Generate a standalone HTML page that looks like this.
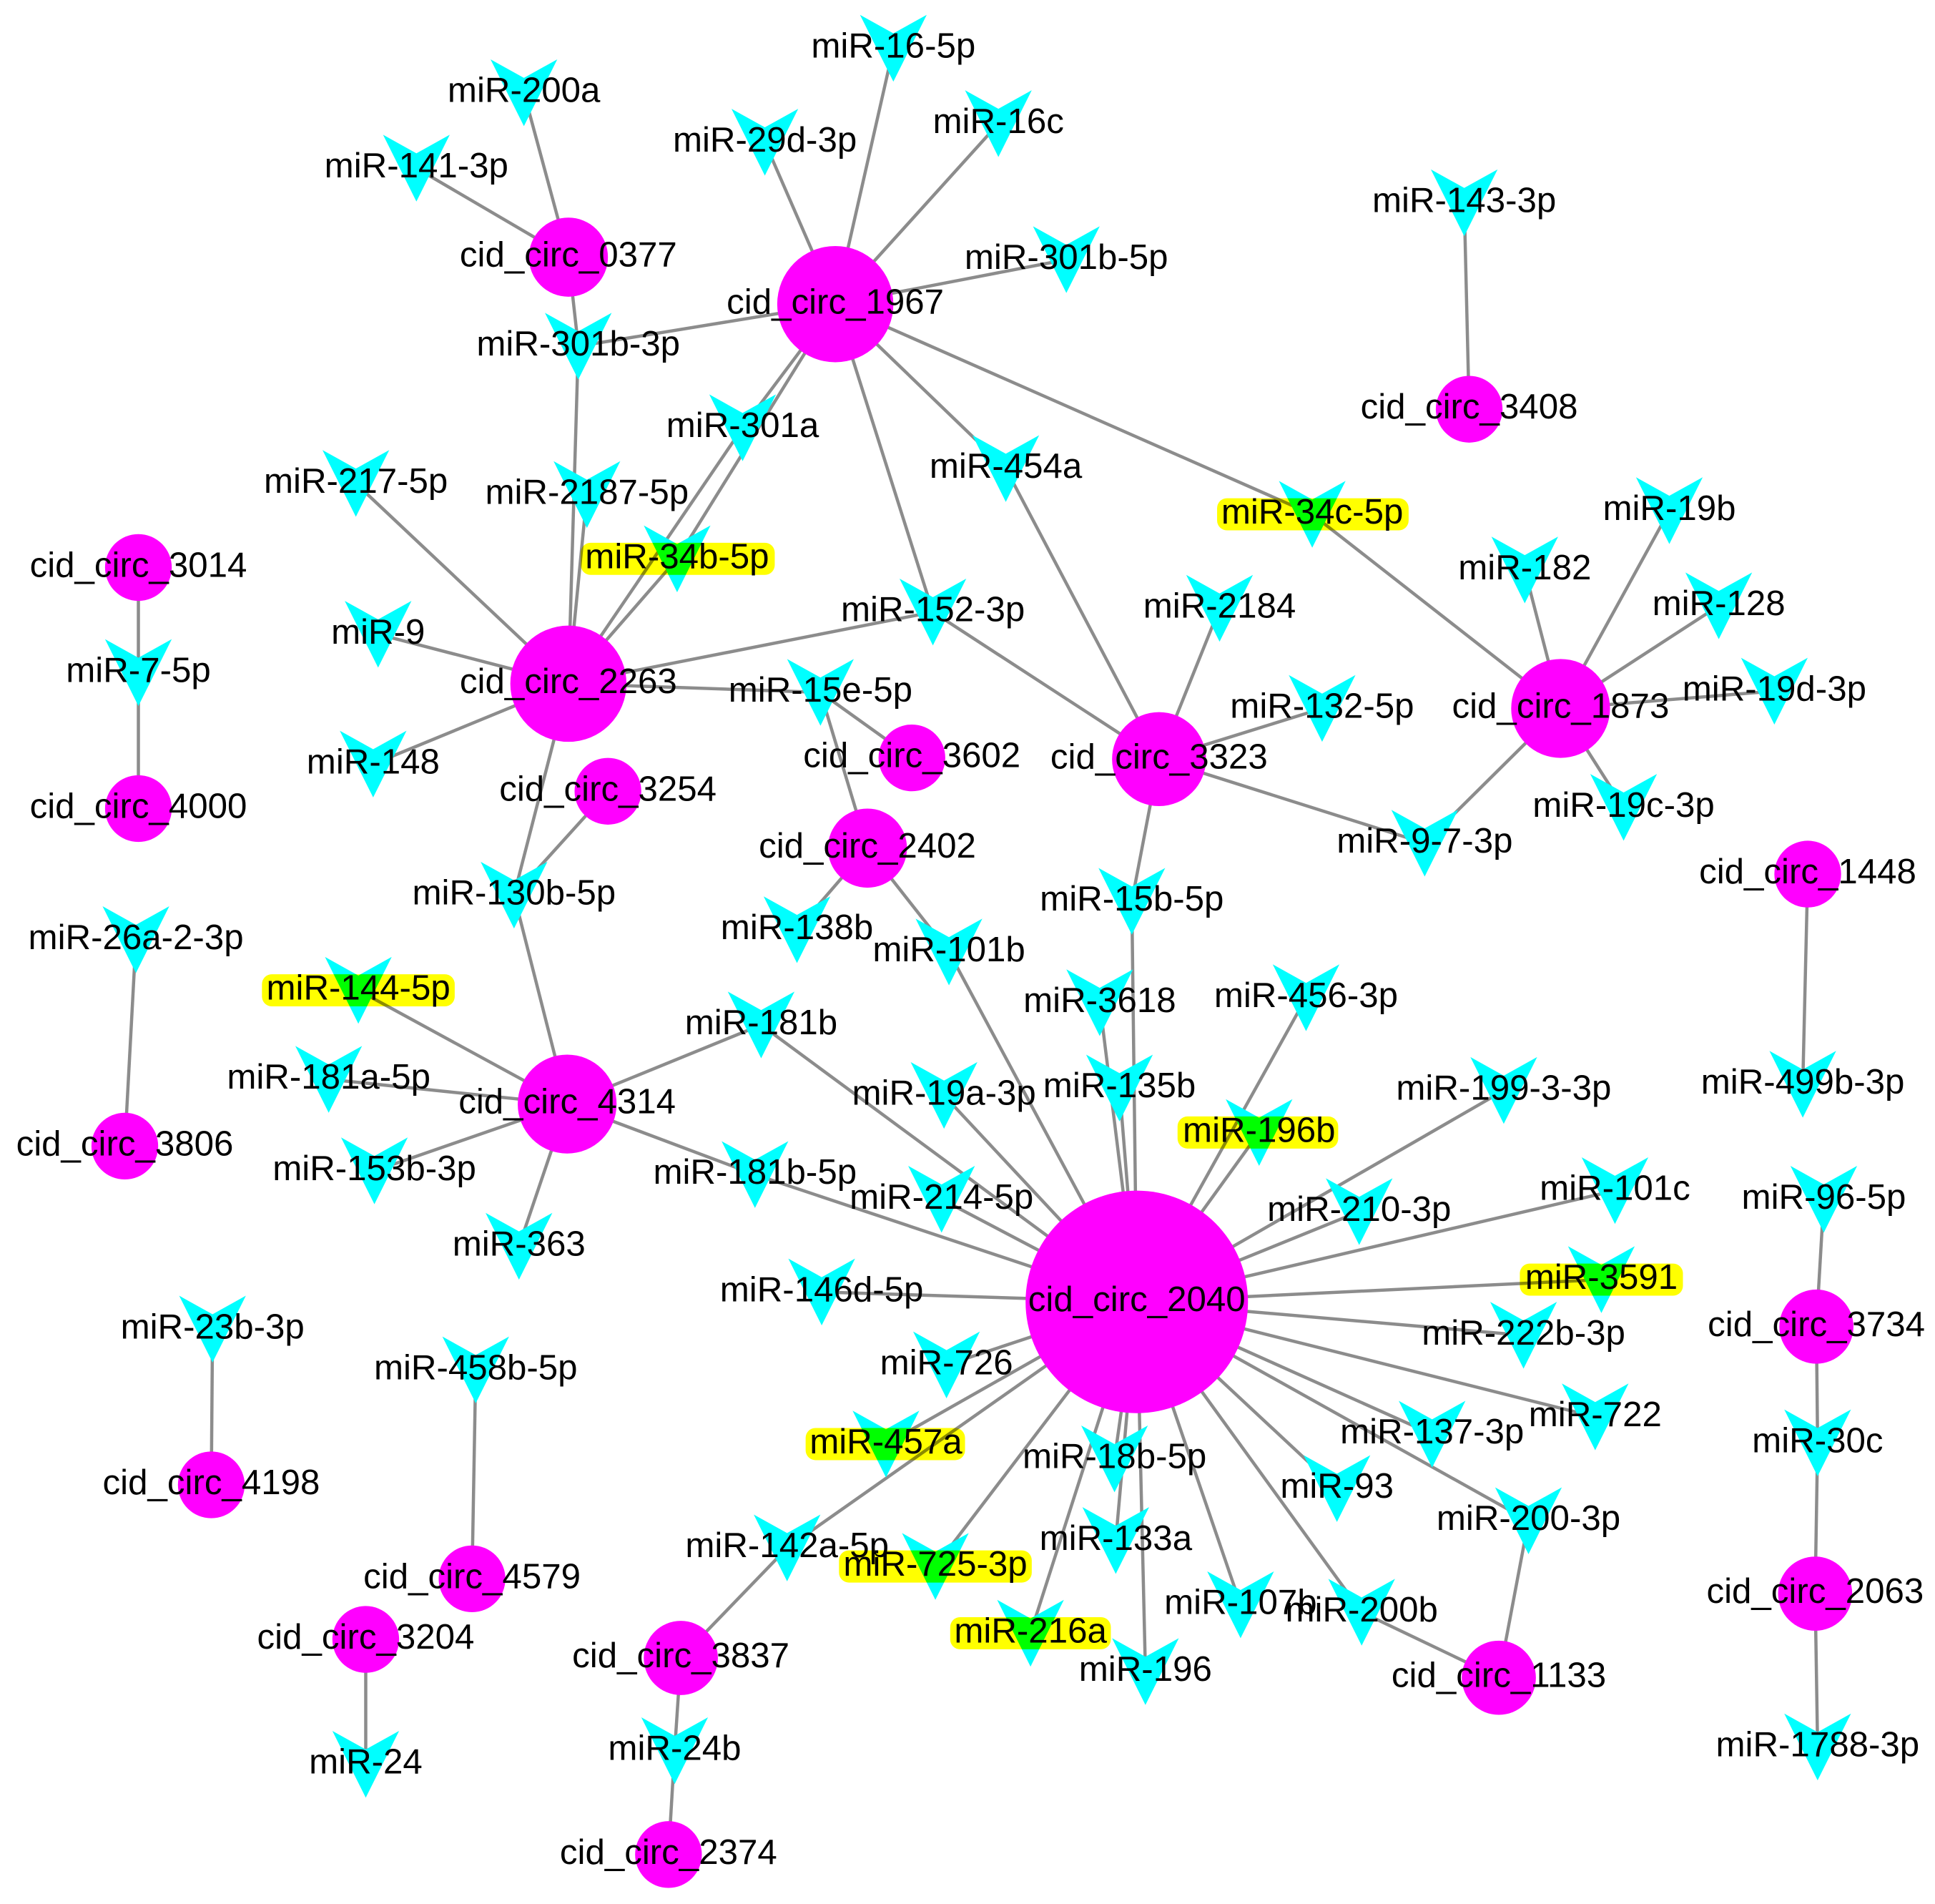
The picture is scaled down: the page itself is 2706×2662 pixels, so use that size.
<!DOCTYPE html>
<html><head><meta charset="utf-8"><style>
html,body{margin:0;padding:0;background:#fff;}
svg{display:block;}
text{font-family:"Liberation Sans",Arial,sans-serif;font-size:28.5px;fill:#000;text-anchor:middle;dominant-baseline:central;}
line{stroke:#8c8c8c;stroke-width:2.6;}
.c{fill:#ff00ff;}
.v{fill:#00ffff;}
.y{fill:#ffff00;mix-blend-mode:multiply;}
</style></head><body>
<svg width="2706" height="2662" viewBox="0 0 1566 1540" preserveAspectRatio="none" xmlns="http://www.w3.org/2000/svg">
<defs><path id="v" d="M-27,-27 L0,-12 L27,-27 L0,27Z"/></defs>
<g>
<line x1="460" y1="208" x2="424" y2="75"/>
<line x1="460" y1="208" x2="337" y2="136"/>
<line x1="460" y1="208" x2="468" y2="280"/>
<line x1="676" y1="246" x2="723" y2="39"/>
<line x1="676" y1="246" x2="619" y2="115"/>
<line x1="676" y1="246" x2="808" y2="100"/>
<line x1="676" y1="246" x2="863" y2="210"/>
<line x1="676" y1="246" x2="468" y2="280"/>
<line x1="676" y1="246" x2="601" y2="346"/>
<line x1="676" y1="246" x2="814" y2="379"/>
<line x1="676" y1="246" x2="1062" y2="416"/>
<line x1="676" y1="246" x2="755" y2="495"/>
<line x1="676" y1="246" x2="548" y2="452"/>
<line x1="601" y1="346" x2="460" y2="553"/>
<line x1="548" y1="452" x2="460" y2="553"/>
<line x1="1189" y1="331" x2="1185" y2="164"/>
<line x1="112" y1="459" x2="112" y2="544"/>
<line x1="112" y1="654" x2="112" y2="544"/>
<line x1="468" y1="280" x2="460" y2="553"/>
<line x1="475" y1="400" x2="460" y2="553"/>
<line x1="460" y1="553" x2="288" y2="391"/>
<line x1="460" y1="553" x2="306" y2="513"/>
<line x1="460" y1="553" x2="302" y2="618"/>
<line x1="460" y1="553" x2="755" y2="495"/>
<line x1="460" y1="553" x2="664" y2="560"/>
<line x1="460" y1="553" x2="416" y2="724"/>
<line x1="664" y1="560" x2="738" y2="613"/>
<line x1="664" y1="560" x2="702" y2="686"/>
<line x1="492" y1="640" x2="416" y2="724"/>
<line x1="416" y1="724" x2="459" y2="893"/>
<line x1="755" y1="495" x2="938" y2="614"/>
<line x1="702" y1="686" x2="645" y2="752"/>
<line x1="702" y1="686" x2="768" y2="770"/>
<line x1="768" y1="770" x2="920" y2="1053"/>
<line x1="938" y1="614" x2="987" y2="492"/>
<line x1="938" y1="614" x2="1070" y2="573"/>
<line x1="938" y1="614" x2="1153" y2="682"/>
<line x1="938" y1="614" x2="814" y2="379"/>
<line x1="938" y1="614" x2="916" y2="729"/>
<line x1="916" y1="729" x2="920" y2="1053"/>
<line x1="1263" y1="573" x2="1062" y2="416"/>
<line x1="1263" y1="573" x2="1234" y2="461"/>
<line x1="1263" y1="573" x2="1351" y2="413"/>
<line x1="1263" y1="573" x2="1391" y2="490"/>
<line x1="1263" y1="573" x2="1436" y2="559"/>
<line x1="1263" y1="573" x2="1314" y2="653"/>
<line x1="1263" y1="573" x2="1153" y2="682"/>
<line x1="1463" y1="707" x2="1459" y2="877"/>
<line x1="101" y1="927" x2="110" y2="760"/>
<line x1="459" y1="893" x2="290" y2="801"/>
<line x1="459" y1="893" x2="266" y2="873"/>
<line x1="459" y1="893" x2="303" y2="947"/>
<line x1="459" y1="893" x2="420" y2="1008"/>
<line x1="459" y1="893" x2="616" y2="829"/>
<line x1="459" y1="893" x2="611" y2="950"/>
<line x1="616" y1="829" x2="920" y2="1053"/>
<line x1="611" y1="950" x2="920" y2="1053"/>
<line x1="920" y1="1053" x2="890" y2="811"/>
<line x1="920" y1="1053" x2="906" y2="880"/>
<line x1="920" y1="1053" x2="1057" y2="807"/>
<line x1="920" y1="1053" x2="1019" y2="916"/>
<line x1="920" y1="1053" x2="1217" y2="882"/>
<line x1="920" y1="1053" x2="1100" y2="980"/>
<line x1="920" y1="1053" x2="1307" y2="963"/>
<line x1="920" y1="1053" x2="1296" y2="1035"/>
<line x1="920" y1="1053" x2="1233" y2="1080"/>
<line x1="920" y1="1053" x2="1291" y2="1146"/>
<line x1="920" y1="1053" x2="1159" y2="1160"/>
<line x1="920" y1="1053" x2="1237" y2="1230"/>
<line x1="920" y1="1053" x2="1082" y2="1204"/>
<line x1="920" y1="1053" x2="1102" y2="1304"/>
<line x1="920" y1="1053" x2="1004" y2="1298"/>
<line x1="920" y1="1053" x2="927" y2="1352"/>
<line x1="920" y1="1053" x2="903" y2="1246"/>
<line x1="920" y1="1053" x2="902" y2="1180"/>
<line x1="920" y1="1053" x2="834" y2="1321"/>
<line x1="920" y1="1053" x2="757" y2="1267"/>
<line x1="920" y1="1053" x2="637" y2="1252"/>
<line x1="920" y1="1053" x2="717" y2="1168"/>
<line x1="920" y1="1053" x2="766" y2="1104"/>
<line x1="920" y1="1053" x2="665" y2="1045"/>
<line x1="920" y1="1053" x2="762" y2="970"/>
<line x1="920" y1="1053" x2="764" y2="886"/>
<line x1="1213" y1="1357" x2="1237" y2="1230"/>
<line x1="1213" y1="1357" x2="1102" y2="1304"/>
<line x1="1470" y1="1073" x2="1476" y2="970"/>
<line x1="1470" y1="1073" x2="1471" y2="1167"/>
<line x1="1469" y1="1289" x2="1471" y2="1167"/>
<line x1="1469" y1="1289" x2="1471" y2="1413"/>
<line x1="171" y1="1201" x2="172" y2="1075"/>
<line x1="382" y1="1277" x2="385" y2="1108"/>
<line x1="296" y1="1326" x2="296" y2="1427"/>
<line x1="551" y1="1341" x2="637" y2="1252"/>
<line x1="551" y1="1341" x2="546" y2="1416"/>
<line x1="541" y1="1500" x2="546" y2="1416"/>
</g>
<g class="v">
<use href="#v" x="424" y="75"/><use href="#v" x="337" y="136"/><use href="#v" x="723" y="39"/>
<use href="#v" x="619" y="115"/><use href="#v" x="808" y="100"/><use href="#v" x="863" y="210"/>
<use href="#v" x="1185" y="164"/><use href="#v" x="468" y="280"/><use href="#v" x="601" y="346"/>
<use href="#v" x="814" y="379"/><use href="#v" x="288" y="391"/><use href="#v" x="475" y="400"/>
<use href="#v" x="548" y="452"/><use href="#v" x="1062" y="416"/><use href="#v" x="1351" y="413"/>
<use href="#v" x="1234" y="461"/><use href="#v" x="1391" y="490"/><use href="#v" x="1436" y="559"/>
<use href="#v" x="987" y="492"/><use href="#v" x="755" y="495"/><use href="#v" x="306" y="513"/>
<use href="#v" x="112" y="544"/><use href="#v" x="664" y="560"/><use href="#v" x="1070" y="573"/>
<use href="#v" x="302" y="618"/><use href="#v" x="1314" y="653"/><use href="#v" x="1153" y="682"/>
<use href="#v" x="416" y="724"/><use href="#v" x="916" y="729"/><use href="#v" x="645" y="752"/>
<use href="#v" x="768" y="770"/><use href="#v" x="110" y="760"/><use href="#v" x="290" y="801"/>
<use href="#v" x="890" y="811"/><use href="#v" x="1057" y="807"/><use href="#v" x="616" y="829"/>
<use href="#v" x="266" y="873"/><use href="#v" x="764" y="886"/><use href="#v" x="906" y="880"/>
<use href="#v" x="1217" y="882"/><use href="#v" x="1459" y="877"/><use href="#v" x="1019" y="916"/>
<use href="#v" x="303" y="947"/><use href="#v" x="611" y="950"/><use href="#v" x="762" y="970"/>
<use href="#v" x="1100" y="980"/><use href="#v" x="1307" y="963"/><use href="#v" x="1476" y="970"/>
<use href="#v" x="420" y="1008"/><use href="#v" x="1296" y="1035"/><use href="#v" x="665" y="1045"/>
<use href="#v" x="1233" y="1080"/><use href="#v" x="172" y="1075"/><use href="#v" x="385" y="1108"/>
<use href="#v" x="766" y="1104"/><use href="#v" x="1291" y="1146"/><use href="#v" x="1471" y="1167"/>
<use href="#v" x="1159" y="1160"/><use href="#v" x="717" y="1168"/><use href="#v" x="902" y="1180"/>
<use href="#v" x="1082" y="1204"/><use href="#v" x="1237" y="1230"/><use href="#v" x="903" y="1246"/>
<use href="#v" x="637" y="1252"/><use href="#v" x="757" y="1267"/><use href="#v" x="1004" y="1298"/>
<use href="#v" x="1102" y="1304"/><use href="#v" x="834" y="1321"/><use href="#v" x="927" y="1352"/>
<use href="#v" x="296" y="1427"/><use href="#v" x="546" y="1416"/><use href="#v" x="1471" y="1413"/>
</g>
<g class="c">
<circle cx="460" cy="208" r="32"/><circle cx="676" cy="246" r="47"/><circle cx="1189" cy="331" r="27"/>
<circle cx="112" cy="459" r="27"/><circle cx="460" cy="553" r="47"/><circle cx="112" cy="654" r="27"/>
<circle cx="738" cy="613" r="27"/><circle cx="492" cy="640" r="27"/><circle cx="702" cy="686" r="32"/>
<circle cx="938" cy="614" r="38"/><circle cx="1263" cy="573" r="40"/><circle cx="1463" cy="707" r="27"/>
<circle cx="101" cy="927" r="27"/><circle cx="459" cy="893" r="40"/><circle cx="920" cy="1053" r="90"/>
<circle cx="1470" cy="1073" r="30"/><circle cx="171" cy="1201" r="27"/><circle cx="382" cy="1277" r="27"/>
<circle cx="296" cy="1326" r="27"/><circle cx="551" cy="1341" r="30"/><circle cx="1469" cy="1289" r="30"/>
<circle cx="1213" cy="1357" r="30"/><circle cx="541" cy="1500" r="27"/>
</g>
<g class="y">
<rect x="470" y="439" width="157" height="26" rx="8"/>
<rect x="985" y="403" width="155" height="26" rx="8"/>
<rect x="212" y="788" width="156" height="26" rx="8"/>
<rect x="953" y="903" width="130" height="26" rx="8"/>
<rect x="1230" y="1022" width="132" height="26" rx="8"/>
<rect x="652" y="1155" width="129" height="26" rx="8"/>
<rect x="679" y="1254" width="156" height="26" rx="8"/>
<rect x="769" y="1308" width="130" height="26" rx="8"/>
</g>
<g transform="translate(0,-2)">
<text x="424" y="75">miR-200a</text><text x="337" y="136">miR-141-3p</text><text x="723" y="39">miR-16-5p</text>
<text x="619" y="115">miR-29d-3p</text><text x="808" y="100">miR-16c</text><text x="863" y="210">miR-301b-5p</text>
<text x="1185" y="164">miR-143-3p</text><text x="468" y="280">miR-301b-3p</text><text x="601" y="346">miR-301a</text>
<text x="814" y="379">miR-454a</text><text x="288" y="391">miR-217-5p</text><text x="475" y="400">miR-2187-5p</text>
<text x="548" y="452">miR-34b-5p</text><text x="1062" y="416">miR-34c-5p</text><text x="1351" y="413">miR-19b</text>
<text x="1234" y="461">miR-182</text><text x="1391" y="490">miR-128</text><text x="1436" y="559">miR-19d-3p</text>
<text x="987" y="492">miR-2184</text><text x="755" y="495">miR-152-3p</text><text x="306" y="513">miR-9</text>
<text x="112" y="544">miR-7-5p</text><text x="664" y="560">miR-15e-5p</text><text x="1070" y="573">miR-132-5p</text>
<text x="302" y="618">miR-148</text><text x="1314" y="653">miR-19c-3p</text><text x="1153" y="682">miR-9-7-3p</text>
<text x="416" y="724">miR-130b-5p</text><text x="916" y="729">miR-15b-5p</text><text x="645" y="752">miR-138b</text>
<text x="768" y="770">miR-101b</text><text x="110" y="760">miR-26a-2-3p</text><text x="290" y="801">miR-144-5p</text>
<text x="890" y="811">miR-3618</text><text x="1057" y="807">miR-456-3p</text><text x="616" y="829">miR-181b</text>
<text x="266" y="873">miR-181a-5p</text><text x="764" y="886">miR-19a-3p</text><text x="906" y="880">miR-135b</text>
<text x="1217" y="882">miR-199-3-3p</text><text x="1459" y="877">miR-499b-3p</text><text x="1019" y="916">miR-196b</text>
<text x="303" y="947">miR-153b-3p</text><text x="611" y="950">miR-181b-5p</text><text x="762" y="970">miR-214-5p</text>
<text x="1100" y="980">miR-210-3p</text><text x="1307" y="963">miR-101c</text><text x="1476" y="970">miR-96-5p</text>
<text x="420" y="1008">miR-363</text><text x="1296" y="1035">miR-3591</text><text x="665" y="1045">miR-146d-5p</text>
<text x="1233" y="1080">miR-222b-3p</text><text x="172" y="1075">miR-23b-3p</text><text x="385" y="1108">miR-458b-5p</text>
<text x="766" y="1104">miR-726</text><text x="1291" y="1146">miR-722</text><text x="1471" y="1167">miR-30c</text>
<text x="1159" y="1160">miR-137-3p</text><text x="717" y="1168">miR-457a</text><text x="902" y="1180">miR-18b-5p</text>
<text x="1082" y="1204">miR-93</text><text x="1237" y="1230">miR-200-3p</text><text x="903" y="1246">miR-133a</text>
<text x="637" y="1252">miR-142a-5p</text><text x="757" y="1267">miR-725-3p</text><text x="1004" y="1298">miR-107b</text>
<text x="1102" y="1304">miR-200b</text><text x="834" y="1321">miR-216a</text><text x="927" y="1352">miR-196</text>
<text x="296" y="1427">miR-24</text><text x="546" y="1416">miR-24b</text><text x="1471" y="1413">miR-1788-3p</text>
<text x="460" y="208">cid_circ_0377</text><text x="676" y="246">cid_circ_1967</text><text x="1189" y="331">cid_circ_3408</text>
<text x="112" y="459">cid_circ_3014</text><text x="460" y="553">cid_circ_2263</text><text x="112" y="654">cid_circ_4000</text>
<text x="738" y="613">cid_circ_3602</text><text x="492" y="640">cid_circ_3254</text><text x="702" y="686">cid_circ_2402</text>
<text x="938" y="614">cid_circ_3323</text><text x="1263" y="573">cid_circ_1873</text><text x="1463" y="707">cid_circ_1448</text>
<text x="101" y="927">cid_circ_3806</text><text x="459" y="893">cid_circ_4314</text><text x="920" y="1053">cid_circ_2040</text>
<text x="1470" y="1073">cid_circ_3734</text><text x="171" y="1201">cid_circ_4198</text><text x="382" y="1277">cid_circ_4579</text>
<text x="296" y="1326">cid_circ_3204</text><text x="551" y="1341">cid_circ_3837</text><text x="1469" y="1289">cid_circ_2063</text>
<text x="1213" y="1357">cid_circ_1133</text><text x="541" y="1500">cid_circ_2374</text>
</g>
</svg>
</body></html>
